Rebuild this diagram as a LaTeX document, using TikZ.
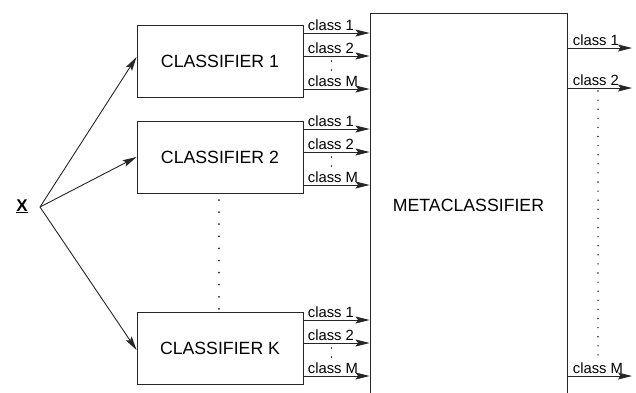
\documentclass[tikz,border=0pt]{standalone}
\usepackage{fontspec}
\setmainfont{Liberation Sans}
\usetikzlibrary{arrows.meta,calc}
\begin{document}
\begin{tikzpicture}[x=1pt,y=-1pt, line width=0.9pt, draw=black!85,
  box/.style={draw, minimum width=166pt, minimum height=72pt, inner sep=0pt, font=\fontsize{17.7}{20}\selectfont},
  arr/.style={-{Stealth[length=14pt,width=7pt,inset=2.5pt]}},
  lbl/.style={anchor=south west, inner sep=0pt, font=\fontsize{14.8}{16}\selectfont},
  dotmark/.style={fill=black!85}]
\useasboundingbox (0,0) rectangle (636,392);

\node[box] (c1) at (220,61) {CLASSIFIER 1};
\node[box] (c2) at (220,157) {CLASSIFIER 2};
\node[box] (cK) at (220,348) {CLASSIFIER K};
\node[box, minimum width=197pt, minimum height=385pt] (meta) at (468.5,205.5) {METACLASSIFIER};

\foreach \c in {c1,c2,cK} {
  \coordinate (\c-a) at ([yshift=28pt]\c.east);
  \coordinate (\c-b) at ([yshift=5pt]\c.east);
  \coordinate (\c-m) at ([yshift=-28pt]\c.east);
  \draw[arr] (\c-a) -- (\c-a -| meta.west) node[lbl, pos=0, xshift=4pt, yshift=2pt] {class 1};
  \draw[arr] (\c-b) -- (\c-b -| meta.west) node[lbl, pos=0, xshift=4pt, yshift=2pt] {class 2};
  \draw[arr] (\c-m) -- (\c-m -| meta.west) node[lbl, pos=0, xshift=4pt, yshift=2pt] {class M};
  \fill[dotmark] ($(\c.east)+(28,0)$) circle (0.9);
  \fill[dotmark] ($(\c.east)+(28,9)$) circle (0.9);
}

\coordinate (o1) at (632,48);
\coordinate (o2) at (632,88);
\coordinate (om) at (632,376);
\draw[arr] (meta.east |- o1) -- (o1) node[lbl, pos=0, xshift=5pt, yshift=2pt] {class 1};
\draw[arr] (meta.east |- o2) -- (o2) node[lbl, pos=0, xshift=5pt, yshift=2pt] {class 2};
\draw[arr] (meta.east |- om) -- (om) node[lbl, pos=0, xshift=5pt, yshift=2pt] {class M};

\foreach \i in {0,...,29} \fill[dotmark] (598,91+9.1*\i) circle (0.8);
\foreach \i in {0,...,9} \fill[dotmark] (219,200+12.1*\i) circle (1);

\node[anchor=base, inner sep=0pt, font=\fontsize{17}{20}\selectfont\bfseries] (x) at (22,211) {\underline{X}};
\coordinate (fan) at (40,207);
\draw[arr] (fan) -- ([yshift=4pt]c1.west);
\draw[arr] (fan) -- (c2.west);
\draw[arr] (fan) -- ([yshift=-2pt]cK.west);
\end{tikzpicture}
\end{document}
